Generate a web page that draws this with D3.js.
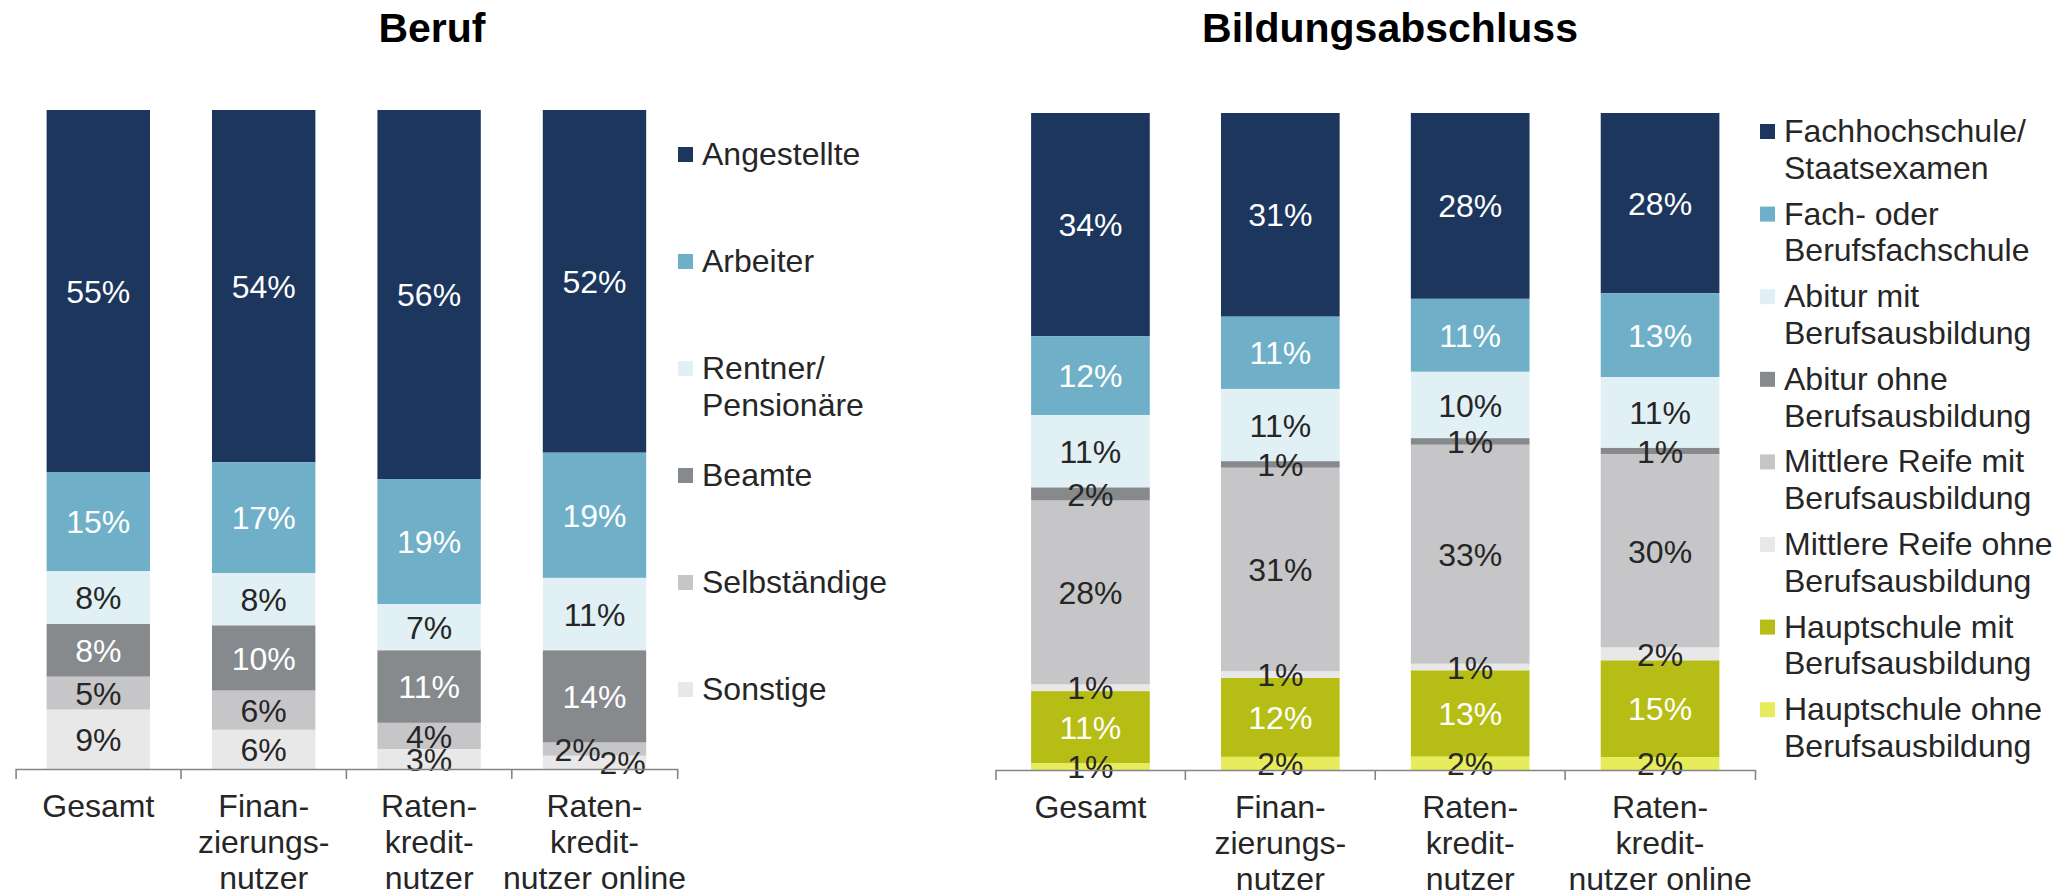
<!DOCTYPE html>
<html lang="de">
<head>
<meta charset="utf-8">
<script src="https://cdn.jsdelivr.net/npm/d3@7"></script>
<style>
  html, body { margin: 0; padding: 0; background: #ffffff; }
  svg { display: block; font-family: "Liberation Sans", Arial, Helvetica, sans-serif; }
</style>
</head>
<body>
<svg id="chart" width="2062" height="896"></svg>
<script>
// ---- Kategorien (x-Achse, mehrzeilig) ----
const categoryLines = [
  ["Gesamt"],
  ["Finan-", "zierungs-", "nutzer"],
  ["Raten-", "kredit-", "nutzer"],
  ["Raten-", "kredit-", "nutzer online"]
];
const categories = ["Gesamt", "Finanzierungsnutzer", "Ratenkreditnutzer", "Ratenkreditnutzer online"];

// ---- Beruf (Anteile in %) ----
const berufSeries = ["Angestellte", "Arbeiter", "Rentner/ Pensionäre", "Beamte", "Selbständige", "Sonstige"];
const angestellte   = [55, 54, 56, 52];
const arbeiter      = [15, 17, 19, 19];
const rentner       = [8, 8, 7, 11];
const beamte        = [8, 10, 11, 14];
const selbstaendige = [5, 6, 4, 2];
const sonstige      = [9, 6, 3, 2];
const berufLegend = [["Angestellte"], ["Arbeiter"], ["Rentner/", "Pensionäre"], ["Beamte"], ["Selbständige"], ["Sonstige"]];

// ---- Bildungsabschluss (Anteile in %) ----
const bildungSeries = [
  "Fachhochschule/ Staatsexamen", "Fach- oder Berufsfachschule",
  "Abitur mit Berufsausbildung", "Abitur ohne Berufsausbildung",
  "Mittlere Reife mit Berufsausbildung", "Mittlere Reife ohne Berufsausbildung",
  "Hauptschule mit Berufsausbildung", "Hauptschule ohne Berufsausbildung"
];
const fachhochschule   = [34, 31, 28, 28];
const berufsfachschule = [12, 11, 11, 13];
const abiturMit        = [11, 11, 10, 11];
const abiturOhne       = [2, 1, 1, 1];
const mittlereMit      = [28, 31, 33, 30];
const mittlereOhne     = [1, 1, 1, 2];
const hauptschuleMit   = [11, 12, 13, 15];
const hauptschuleOhne  = [1, 2, 2, 2];
const bildungLegend = [
  ["Fachhochschule/", "Staatsexamen"], ["Fach- oder", "Berufsfachschule"],
  ["Abitur mit", "Berufsausbildung"], ["Abitur ohne", "Berufsausbildung"],
  ["Mittlere Reife mit", "Berufsausbildung"], ["Mittlere Reife ohne", "Berufsausbildung"],
  ["Hauptschule mit", "Berufsausbildung"], ["Hauptschule ohne", "Berufsausbildung"]
];

// ---- Farben ----
const NAVY = "#1c365e", BLUE = "#6fb0c8", ICE = "#e1f0f4", GREY = "#878a8d",
      SILVER = "#c6c6c8", MIST = "#e8e8e9", OLIVE = "#b6bd14", LIME = "#e7ec5c";
const DARK = "#262626", WHITE = "#ffffff";

const svg = d3.select("#chart");
const FONT = 32;

function buildRows(seriesNames, valueArrays) {
  return categories.map((c, i) => {
    const row = { category: c };
    seriesNames.forEach((s, k) => { row[s] = valueArrays[k][i]; });
    return row;
  });
}

function drawPanel(cfg) {
  const g = svg.append("g");
  const rows = buildRows(cfg.series, cfg.values);

  const x = d3.scaleBand()
    .domain(categories)
    .range([cfg.x0, cfg.x1])
    .paddingInner(0.375)
    .paddingOuter(0.1875);
  const y = d3.scaleLinear().domain([0, 1]).range([cfg.base, cfg.top]);

  const color = d3.scaleOrdinal().domain(cfg.series).range(cfg.colors);
  // first series sits on top of each bar
  const stacked = d3.stack()
    .keys(cfg.series)
    .order(d3.stackOrderReverse)
    .offset(d3.stackOffsetExpand)(rows);

  // Segmente
  const layers = g.selectAll("g.layer").data(stacked).join("g")
    .attr("class", "layer")
    .attr("fill", d => color(d.key));
  layers.selectAll("rect").data(d => d).join("rect")
    .attr("x", d => x(d.data.category))
    .attr("width", x.bandwidth())
    .attr("y", d => y(d[1]))
    .attr("height", d => y(d[0]) - y(d[1]));

  // Werte-Beschriftungen
  stacked.forEach((layer, k) => {
    layer.forEach((d, i) => {
      const shift = (cfg.labelShift[layer.key] || {})[d.data.category] || 0;
      g.append("text")
        .attr("x", x(d.data.category) + x.bandwidth() / 2 + shift)
        .attr("y", (y(d[0]) + y(d[1])) / 2)
        .attr("dy", "0.36em")
        .attr("text-anchor", "middle")
        .attr("font-size", FONT)
        .attr("fill", cfg.labelColors[k])
        .text(cfg.values[k][i] + "%");
    });
  });

  // x-Achse mit Trennstrichen zwischen den Kategorien
  const axis = g.append("g")
    .attr("transform", `translate(0,${cfg.base})`)
    .call(d3.axisBottom(x).tickSize(0).tickSizeOuter(10).tickFormat(""));
  axis.select(".domain").attr("stroke", "#858585").attr("stroke-width", 1.6);
  const step = x.step();
  categories.slice(1).forEach((c, i) => {
    const bx = cfg.x0 + step * (i + 1);
    axis.append("line")
      .attr("x1", bx).attr("x2", bx).attr("y1", 0).attr("y2", 10)
      .attr("stroke", "#858585").attr("stroke-width", 1.6);
  });

  // Kategorienamen
  categories.forEach((c, i) => {
    const t = g.append("text")
      .attr("x", x(c) + x.bandwidth() / 2)
      .attr("y", cfg.base + 48)
      .attr("text-anchor", "middle")
      .attr("font-size", FONT)
      .attr("fill", DARK);
    categoryLines[i].forEach((line, j) => {
      t.append("tspan").attr("x", x(c) + x.bandwidth() / 2)
        .attr("dy", j === 0 ? 0 : 36).text(line);
    });
  });

  // Titel
  g.append("text")
    .attr("x", cfg.titleX).attr("y", 42)
    .attr("text-anchor", "middle")
    .attr("font-size", 41).attr("font-weight", "bold")
    .attr("fill", "#000")
    .text(cfg.title);

  // Legende
  const lg = g.append("g");
  cfg.legend.forEach((lines, k) => {
    const by = cfg.legendY0 + k * cfg.legendStep;
    lg.append("rect")
      .attr("x", cfg.legendX).attr("y", by - 18)
      .attr("width", 15).attr("height", 15)
      .attr("fill", color(cfg.series[k]));
    const t = lg.append("text")
      .attr("x", cfg.legendX + 24).attr("y", by)
      .attr("font-size", FONT).attr("fill", DARK);
    lines.forEach((line, j) => {
      t.append("tspan").attr("x", cfg.legendX + 24)
        .attr("dy", j === 0 ? 0 : 36.7).text(line);
    });
  });
}

drawPanel({
  title: "Beruf", titleX: 432,
  series: berufSeries,
  values: [angestellte, arbeiter, rentner, beamte, selbstaendige, sonstige],
  colors: [NAVY, BLUE, ICE, GREY, SILVER, MIST],
  labelColors: [WHITE, WHITE, DARK, WHITE, DARK, DARK],
  labelShift: { "Selbständige": { "Ratenkreditnutzer online": -17 }, "Sonstige": { "Ratenkreditnutzer online": 28 } },
  x0: 15.6, x1: 677.2, base: 769, top: 110,
  legend: berufLegend, legendX: 678, legendY0: 165, legendStep: 107
});

drawPanel({
  title: "Bildungsabschluss", titleX: 1390,
  series: bildungSeries,
  values: [fachhochschule, berufsfachschule, abiturMit, abiturOhne, mittlereMit, mittlereOhne, hauptschuleMit, hauptschuleOhne],
  colors: [NAVY, BLUE, ICE, GREY, SILVER, MIST, OLIVE, LIME],
  labelColors: [WHITE, WHITE, DARK, DARK, DARK, DARK, WHITE, DARK],
  labelShift: {},
  x0: 995.5, x1: 1755, base: 770, top: 113,
  legend: bildungLegend, legendX: 1760, legendY0: 142, legendStep: 82.6
});
</script>
</body>
</html>
